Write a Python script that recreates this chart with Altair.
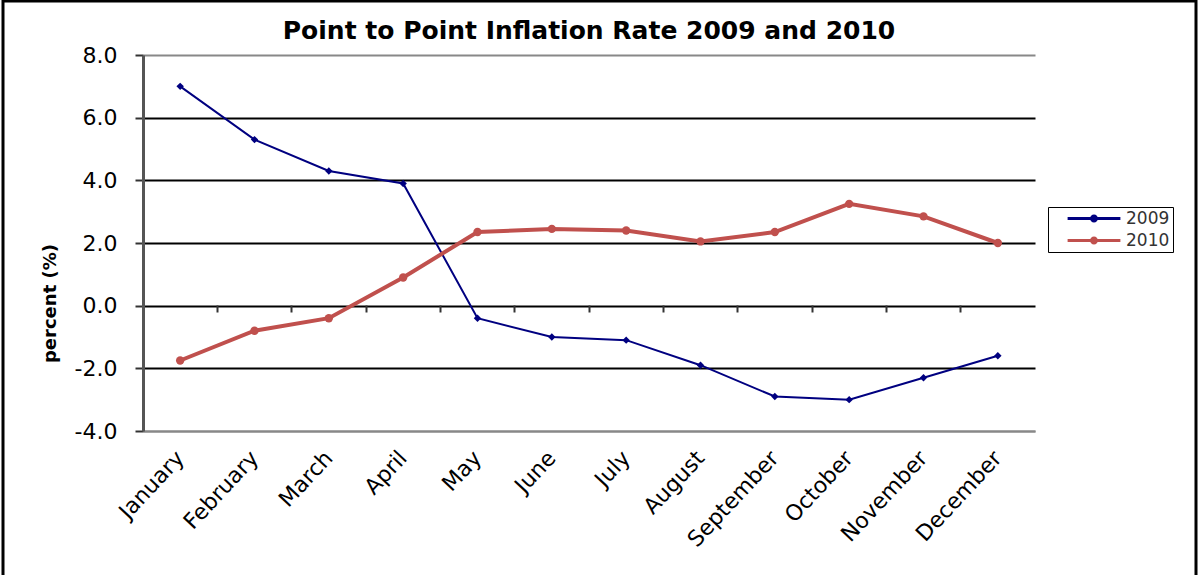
import altair as alt
import pandas as pd

months = ["January", "February", "March", "April", "May", "June", "July",
          "August", "September", "October", "November", "December"]
rate_2009 = [7.0, 5.3, 4.3, 3.9, -0.4, -1.0, -1.1, -1.9, -2.9, -3.0, -2.3, -1.6]
rate_2010 = [-1.75, -0.8, -0.4, 0.9, 2.35, 2.45, 2.4, 2.05, 2.35, 3.25, 2.85, 2.0]
series = ["2009", "2010"]
colors = ["#000080", "#C0504D"]
y_ticks = [-4, -2, 0, 2, 4, 6, 8]

rows = []
for name, vals in zip(series, [rate_2009, rate_2010]):
    for m, v in zip(months, vals):
        rows.append({"month": m, "series": name, "rate": v})
df = pd.DataFrame(rows)

FONT = "DejaVu Sans"

xscale = alt.Scale(type="band", domain=months, paddingInner=0, paddingOuter=0)
yscale = alt.Scale(domain=[-4, 8], nice=False, zero=False)
cscale = alt.Scale(domain=series, range=colors)

base = alt.Chart(df)

lines = base.mark_line().encode(
    x=alt.X("month:N", sort=months, scale=xscale, bandPosition=0.5,
            axis=alt.Axis(title=None, orient="bottom", labelAngle=-47, labelFontSize=22,
                          labelFont=FONT, labelColor="black", ticks=False,
                          domainColor="#888888", domainWidth=2, labelPadding=23,
                          bandPosition=0.5)),
    y=alt.Y("rate:Q", scale=yscale,
            axis=alt.Axis(title="percent (%)", values=y_ticks,
                          labelExpr="replace(format(datum.value, '.1f'), '\u2212', '-')",
                          labelFontSize=22, labelFont=FONT, labelColor="black",
                          labelPadding=18, tickSize=8, tickColor="#333333", tickWidth=2,
                          domainColor="#555555", domainWidth=3,
                          grid=True, gridWidth=2,
                          gridColor={"condition": {"test": "datum.value == 8 || datum.value == -4",
                                                   "value": "#888888"}, "value": "black"},
                          titleFont=FONT, titleFontSize=18, titleFontWeight="bold",
                          titleColor="black", titleX=-93, titleY=248, titleAngle=270,
                          titleAlign="center", titleBaseline="middle")),
    color=alt.Color("series:N", scale=cscale, legend=None),
    strokeWidth=alt.StrokeWidth("series:N", scale=alt.Scale(domain=series, range=[2, 4]), legend=None),
)

points = base.mark_point(filled=True, opacity=1).encode(
    x=alt.X("month:N", sort=months, scale=xscale, bandPosition=0.5,
            axis=alt.Axis(title=None, orient="bottom", labels=False, domain=False, ticks=True,
                          tickSize=7, tickColor="#333333", tickWidth=2, offset=-126,
                          bandPosition=0, grid=False)),
    y=alt.Y("rate:Q", scale=yscale, axis=None),
    color=alt.Color("series:N", scale=cscale,
                    legend=alt.Legend(title=None, orient="none", legendX=905, legendY=152,
                                      strokeColor="black", padding=3, symbolOffset=34.5,
                                      symbolType="M-3.3,-0.19H3.3V0.19H-3.3Z M-0.5,0A0.5,0.5 0 1,1 0.5,0A0.5,0.5 0 1,1 -0.5,0Z",
                                      symbolSize=256, symbolStrokeWidth=0,
                                      labelFont=FONT, labelFontSize=17, labelColor="#333333",
                                      labelExpr="datum.label + '\u00a0\u00a0\u00a0'",
                                      rowPadding=4, labelOffset=23.5)),
    shape=alt.Shape("series:N", scale=alt.Scale(domain=series, range=["diamond", "circle"]), legend=None),
    size=alt.Size("series:N", scale=alt.Scale(domain=series, range=[55, 70]), legend=None),
)

frame = alt.Chart(pd.DataFrame({"k": [0]})).mark_rect(
    fill=None, stroke="black", strokeWidth=3
).encode(x=alt.value(-140), x2=alt.value(1053), y=alt.value(-54), y2=alt.value(540))

chart = alt.layer(lines, points, frame).resolve_axis(
    x="independent", y="independent"
).resolve_legend(color="independent").properties(
    width=892, height=376,
    autosize=alt.AutoSizeParams(type="none"),
    padding={"left": 143, "top": 55, "right": 165, "bottom": 144},
    title=alt.TitleParams("Point to Point Inflation Rate 2009 and 2010", font=FONT,
                          fontSize=25, fontWeight="bold", color="black", offset=14,
                          frame="group", dy=58),
    background="white",
).configure_view(stroke=None)

chart.save("out.html", embed_options={"renderer": "svg", "actions": False})
